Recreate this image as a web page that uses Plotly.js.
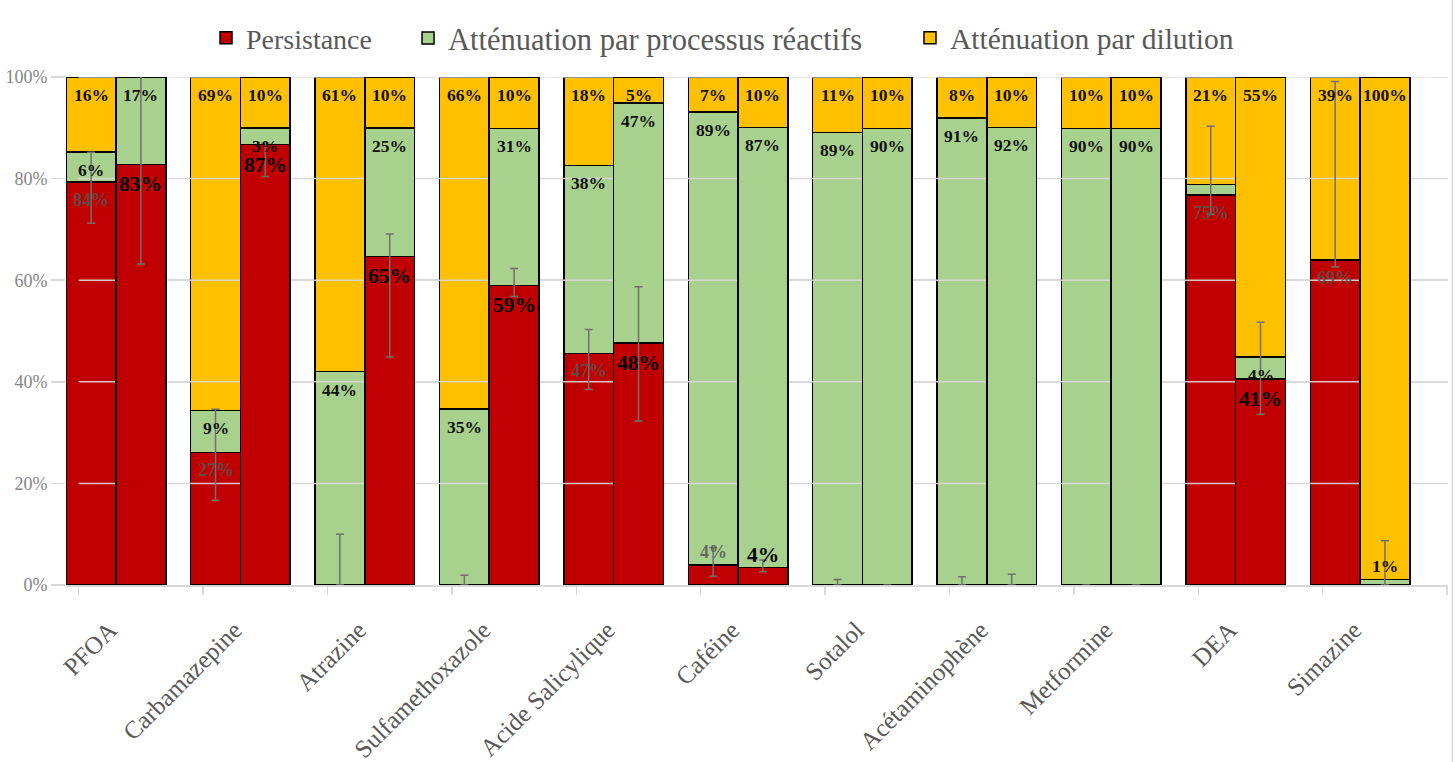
<!DOCTYPE html>
<html>
<head>
<meta charset="utf-8">
<script src="https://cdn.plot.ly/plotly-3.0.1.min.js"></script>
<style>html,body{margin:0;padding:0;background:#fff;}#chart{width:1456px;height:762px;}</style>
</head>
<body>
<div id="chart"></div>
<script>
// ---------- data ----------
const categories = ['PFOA','Carbamazepine','Atrazine','Sulfamethoxazole','Acide Salicylique','Caféine','Sotalol','Acétaminophène','Metformine','DEA','Simazine'];

// left bar of each pair
const persL  = [79.3, 26.1, 0,    0,    45.6, 3.9,  0,    0,    0,    76.8, 64.0];
const reactL = [5.9,  8.3,  42.0, 34.6, 37.0, 89.2, 89.1, 91.9, 89.9, 2.0,  0];
const dilL   = [14.8, 65.6, 58.0, 65.4, 17.4, 6.9,  10.9, 8.1,  10.1, 21.2, 36.0];
// right bar of each pair
const persR  = [82.8, 86.7, 64.7, 59.0, 47.6, 3.4,  0,    0,    0,    40.6, 0];
const reactR = [17.2, 3.3,  25.3, 30.9, 47.3, 86.7, 89.9, 90.1, 89.9, 4.3,  1.1];
const dilR   = [0,    10.0, 10.0, 10.1, 5.1,  9.9,  10.1, 9.9,  10.1, 55.1, 98.9];

// error bars on persistence
const errPlusL  = [5.9, 8.5, 10.0, 1.9, 4.7, 3.5, 1.1, 1.6, 0, 13.5, 35.1];
const errMinusL = [8.1, 9.4, 0,    0,   7.1, 2.2, 0,   0,   0, 3.8,  1.4];
const errPlusR  = [19.6, 0.3, 4.4, 3.3, 11.1, 1.5, 0, 2.1, 0, 11.1, 8.7];
const errMinusR = [19.6, 6.3, 19.8, 2.2, 15.3, 0.8, 0, 0,  0, 7.0,  0];

// printed labels
const lblPersL  = ['84%','27%','','','47%','4%','','','','75%','69%'];
const lblReactL = ['6%','9%','44%','35%','38%','89%','89%','91%','90%','',''];
const lblDilL   = ['16%','69%','61%','66%','18%','7%','11%','8%','10%','21%','39%'];
const lblPersR  = ['83%','87%','65%','59%','48%','4%','','','','41%',''];
const lblReactR = ['17%','3%','25%','31%','47%','87%','90%','92%','90%','4%','1%'];
const lblDilR   = ['','10%','10%','10%','5%','10%','10%','10%','10%','55%','100%'];

const seriesNames = ['Persistance','Atténuation par processus réactifs','Atténuation par dilution'];
const yTicks = [0, 20, 40, 60, 80, 100];

// ---------- styles ----------
const COLORS = ['#C00000', '#A9D18E', '#FFC000'];
const SERIF = '"Liberation Serif", "Times New Roman", serif';
const HALF = 0.2, BARW = 0.4;
const XRANGE = [-0.402, 10.707];
const idx = categories.map((_, i) => i);
const xL = idx.map(i => i - HALF);
const xR = idx.map(i => i + HALF);
const boundaries = idx.concat([categories.length]).map(i => i - 0.3);

function bar(x, y, k, axes, showleg) {
  return {
    type: 'bar', x: x, y: y, width: BARW, name: seriesNames[k],
    marker: {color: COLORS[k], line: {color: '#000', width: 1.5}},
    xaxis: axes[0], yaxis: axes[1], hoverinfo: 'skip',
    showlegend: showleg, legendgroup: 'g' + k,
    legend: k === 0 ? 'legend' : 'legend' + (k + 1)
  };
}
function errTrace(x, y, plus, minus) {
  return {
    type: 'scatter', mode: 'markers', x: x, y: y, xaxis: 'x2', yaxis: 'y2',
    marker: {size: 1, opacity: 0}, showlegend: false, hoverinfo: 'skip',
    error_y: {type: 'data', symmetric: false, array: plus, arrayminus: minus,
              color: '#707070', thickness: 1.5, width: 4}
  };
}

// gridlines re-drawn above the left bars (below right bars)
const gx = [], gy = [];
yTicks.filter(v => v > 0).forEach(v => { gx.push(boundaries[0], XRANGE[1], null); gy.push(v, v, null); });

const traces = [
  bar(xL, persL, 0, ['x','y'], true),
  bar(xL, reactL, 1, ['x','y'], true),
  bar(xL, dilL, 2, ['x','y'], true),
  {type:'scatter', mode:'lines', x: gx, y: gy, xaxis:'x', yaxis:'y', showlegend:false, hoverinfo:'skip',
   line:{color:'rgba(217,217,217,0.9)', width:1.5}},
  bar(xR, persR, 0, ['x2','y2'], false),
  bar(xR, reactR, 1, ['x2','y2'], false),
  bar(xR, dilR, 2, ['x2','y2'], false),
  errTrace(xL, persL, errPlusL, errMinusL),
  errTrace(xR, persR, errPlusR, errMinusR)
];

// ---------- labels ----------
const annotations = [];
function addLabels(xs, bases, vals, labels, color, size, shift) {
  labels.forEach((txt, i) => {
    if (!txt) return;
    const top = Math.min(100, Math.round((bases[i] + vals[i]) * 10) / 10);
    annotations.push({
      xref: 'x', yref: 'y', x: xs[i], y: top, text: '<b>' + txt + '</b>', showarrow: false,
      yanchor: 'middle', yshift: top < 6 ? 13 : shift,
      font: {family: SERIF, size: size, color: color}
    });
  });
}
const zero = idx.map(() => 0);
const cumL1 = persL, cumL2 = persL.map((v, i) => v + reactL[i]);
const cumR1 = persR, cumR2 = persR.map((v, i) => v + reactR[i]);
addLabels(xL, zero, persL, lblPersL, 'rgba(85,85,85,0.85)', 18, -18);
addLabels(xL, cumL1, reactL, lblReactL, '#111', 17.5, -18);
addLabels(xL, cumL2, dilL, lblDilL, '#111', 17.5, -18);
addLabels(xR, zero, persR, lblPersR, '#000', 21.5, -20);
addLabels(xR, cumR1, reactR, lblReactR, '#111', 17.5, -18);
addLabels(xR, cumR2, dilR, lblDilR, '#111', 17.5, -18);

// ---------- layout ----------
function legendAt(x, size) {
  return {orientation: 'h', yref: 'container', y: 0.95, yanchor: 'middle', xanchor: 'left', x: x,
    bgcolor: 'rgba(0,0,0,0)', font: {family: SERIF, size: size, color: '#595959'}};
}

const layout = {
  width: 1456, height: 762,
  margin: {l: 66, r: 8, t: 77, b: 177},
  font: {family: SERIF, color: '#595959'},
  paper_bgcolor: '#fff', plot_bgcolor: '#fff',
  barmode: 'stack', bargap: 0,
  showlegend: true,
  legend: legendAt(0.1013, 28),
  legend2: legendAt(0.2475, 30.5),
  legend3: legendAt(0.6107, 29.5),
  xaxis: {
    range: XRANGE, tickmode: 'array', tickvals: idx, ticktext: categories,
    tickangle: -45, tickfont: {family: SERIF, size: 25, color: '#595959'},
    ticks: 'outside', ticklen: 19, tickcolor: 'rgba(0,0,0,0)', ticklabelshift: -6,
    showline: true, linecolor: '#d9d9d9', linewidth: 1.5,
    showgrid: false, zeroline: false, fixedrange: true,
    minor: {tickmode: 'array', tickvals: boundaries, ticks: 'outside', ticklen: 8, tickcolor: '#d9d9d9', tickwidth: 1.5, showgrid: false}
  },
  yaxis: {
    range: [0, 100], tickmode: 'array', tickvals: yTicks, ticktext: yTicks.map(v => v + '%'),
    tickfont: {family: SERIF, size: 18, color: '#858585'},
    ticks: 'outside', ticklen: 14, tickcolor: '#d9d9d9', tickwidth: 1.5,
    showgrid: true, gridcolor: '#d9d9d9', gridwidth: 1.5,
    zeroline: false, showline: false, fixedrange: true
  },
  xaxis2: {overlaying: 'x', anchor: 'y2', range: XRANGE, visible: false, fixedrange: true},
  yaxis2: {overlaying: 'y', anchor: 'x2', range: [0, 100], visible: false, fixedrange: true},
  annotations: annotations,
  shapes: [{type: 'line', xref: 'paper', yref: 'paper', x0: 1.003, x1: 1.003, y0: -0.4, y1: 1.2,
            line: {color: '#d9d9d9', width: 1.5}}]
};

Plotly.newPlot('chart', traces, layout, {displayModeBar: false, staticPlot: true});
</script>
</body>
</html>
